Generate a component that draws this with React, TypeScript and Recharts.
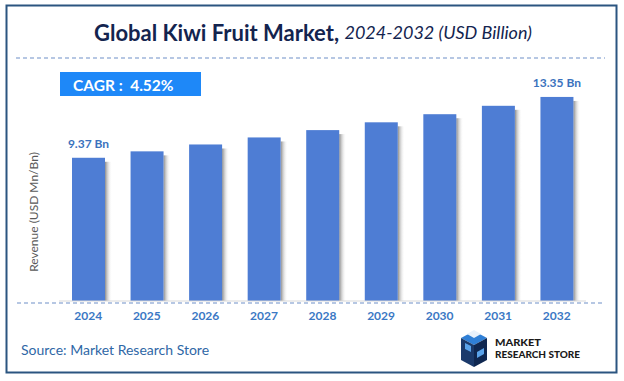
import React from 'react';
import { BarChart, Bar, XAxis, YAxis, LabelList } from 'recharts';

const years = ['2024', '2025', '2026', '2027', '2028', '2029', '2030', '2031', '2032'];
const revenue = [9.37, 9.79, 10.24, 10.7, 11.18, 11.69, 12.22, 12.77, 13.35];
const barLabels = ['9.37 Bn', '', '', '', '', '', '', '', '13.35 Bn'];

const data = years.map((year, i) => ({ year, revenue: revenue[i], label: barLabels[i] }));

const FONT = 'Lato, "Open Sans", sans-serif';
const BAR_BLUE = '#4e7dd4';

const ShadowBar = (props: any) => {
  const { x, y, width, height } = props;
  if (height <= 0) return null;
  return (
    <g>
      <rect x={x + width} y={y + 4} width={7} height={height - 4} fill="url(#barShadow)" />
      <rect x={x} y={y} width={width} height={height} fill={BAR_BLUE} />
    </g>
  );
};

const BarLabel = (props: any) => {
  const { x, y, width, value } = props;
  if (!value) return null;
  return (
    <text
      x={x + width / 2}
      y={y - 14}
      textAnchor="middle"
      dominantBaseline="central"
      fill="#3a72bd"
      fontSize={12}
      fontWeight={700}
      fontFamily={FONT}
    >
      {value}
    </text>
  );
};

const App: React.FC = () => {
  return (
    <div style={{ position: 'absolute', left: 0, top: 0, width: 624, height: 381, background: '#fff' }}>
      <BarChart
        width={624}
        height={381}
        data={data}
        margin={{ top: 87, right: 38, left: 59, bottom: 50 }}
        barSize={33}
      >
        <defs>
          <linearGradient id="barShadow" x1="0" y1="0" x2="1" y2="0">
            <stop offset="0%" stopColor="#8c8c8c" />
            <stop offset="100%" stopColor="#ffffff" stopOpacity={0} />
          </linearGradient>
        </defs>
        <XAxis
          dataKey="year"
          height={30}
          axisLine={{ stroke: '#d9d9d9' }}
          tickLine={false}
          tickMargin={4}
          tick={{ fill: '#3b78c4', fontSize: 12, fontWeight: 700, fontFamily: FONT }}
        />
        <YAxis hide domain={[0, 14]} />
        <Bar dataKey="revenue" fill={BAR_BLUE} shape={ShadowBar} isAnimationActive={false}>
          <LabelList dataKey="label" content={BarLabel} />
        </Bar>
      </BarChart>

      <svg
        width={624}
        height={381}
        style={{ position: 'absolute', left: 0, top: 0, pointerEvents: 'none' }}
      >
        <rect x={6.5} y={5.5} width={610} height={367} fill="none" stroke="#2b5580" strokeWidth={2} />
        <text x={313} y={32} textAnchor="middle" dominantBaseline="central" fontFamily={FONT} fill="#13244f">
          <tspan fontSize={22} fontWeight={700}>Global Kiwi Fruit Market, </tspan>
          <tspan fontSize={18} fontStyle="italic">2024-2032 (USD Billion)</tspan>
        </text>
        <line x1={16} y1={58} x2={605} y2={58} stroke="#6f8fc8" strokeWidth={1.2} strokeDasharray="4 3" />

        <rect x={60} y={72} width={141} height={24} fill="#1e88f8" />
        <text
          x={73}
          y={85}
          dominantBaseline="central"
          fontFamily={FONT}
          fontSize={15.5}
          fontWeight={700}
          fill="#fff"
          xmlSpace="preserve"
          style={{ whiteSpace: 'pre' }}
        >
          {'CAGR :  4.52%'}
        </text>

        <text
          x={33}
          y={212}
          transform="rotate(-90 33 212)"
          textAnchor="middle"
          dominantBaseline="central"
          fontFamily={FONT}
          fontSize={12}
          fill="#595959"
        >
          Revenue (USD Mn/Bn)
        </text>

        <line x1={17} y1={303} x2={603} y2={303} stroke="#6f8fc8" strokeWidth={1.2} strokeDasharray="4 3" />

        <text x={21} y={349} dominantBaseline="central" fontFamily={FONT} fontSize={14} fill="#2f67a6">
          Source: Market Research Store
        </text>

        <g>
          <polygon points="461,338 474,331 487,338 474,345" fill="#2f7fd6" />
          <polygon points="461,338 474,345 474,367 461,360" fill="#1b3a6b" />
          <polygon points="474,345 487,338 487,360 474,367" fill="#0f2750" />
          <polygon points="465,343 471,346 471,352 465,349" fill="#5aa3ea" />
          <polygon points="477,352 484,348 484,354 477,358" fill="#5aa3ea" />
          <polygon points="467,334 474,330 481,334 474,338" fill="#e8f1fb" />
        </g>
        <text x={495} y={346} fontFamily={FONT} fontWeight={900} fontSize={10} fill="#1a1a1a" textLength={46} lengthAdjust="spacingAndGlyphs">
          MARKET
        </text>
        <text x={495} y={357.5} fontFamily={FONT} fontWeight={900} fontSize={10} fill="#1a1a1a" textLength={85} lengthAdjust="spacingAndGlyphs">
          RESEARCH STORE
        </text>
      </svg>
    </div>
  );
};

export default App;
